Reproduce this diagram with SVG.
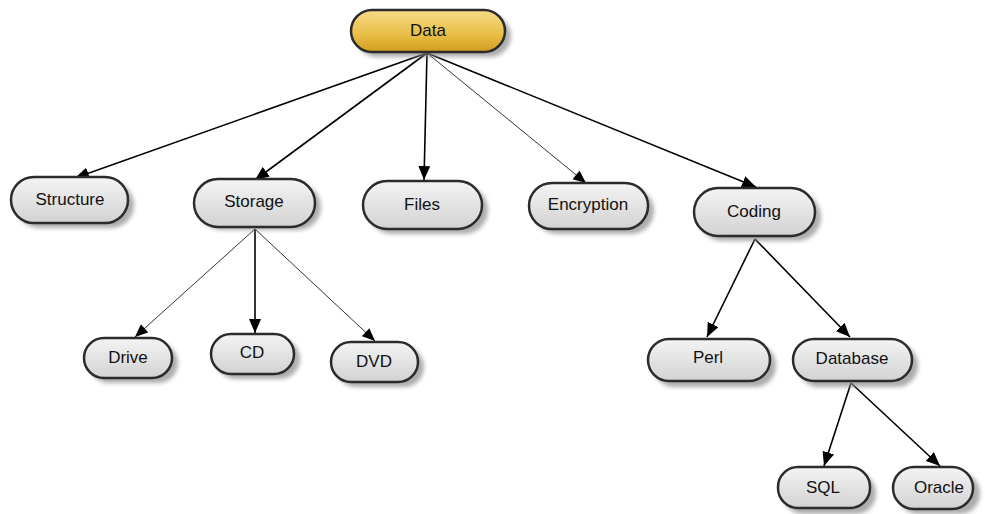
<svg xmlns="http://www.w3.org/2000/svg" width="985" height="514" viewBox="0 0 985 514">
<defs>
<linearGradient id="gGray" x1="0" y1="0" x2="0" y2="1">
<stop offset="0" stop-color="#f4f4f4"/><stop offset="1" stop-color="#d2d2d2"/>
</linearGradient>
<linearGradient id="gGold" x1="0" y1="0" x2="0" y2="1">
<stop offset="0" stop-color="#f6dc88"/><stop offset="0.6" stop-color="#e8bd45"/><stop offset="1" stop-color="#d19d1c"/>
</linearGradient>
<filter id="blur" x="-20%" y="-30%" width="140%" height="160%"><feGaussianBlur stdDeviation="2"/></filter>
<marker id="arr" viewBox="0 0 14 12" refX="14" refY="6" markerWidth="14" markerHeight="12" markerUnits="userSpaceOnUse" orient="auto">
<path d="M0,0 L14,6 L0,12 z" fill="#000"/>
</marker>
<marker id="arrT" viewBox="0 0 14 12" refX="14" refY="6" markerWidth="14" markerHeight="11" markerUnits="userSpaceOnUse" orient="auto">
<path d="M0,0 L14,6 L0,12 z" fill="#000"/>
</marker>
</defs>
<style>
.sh{fill:#8a8a8a;opacity:0.7;filter:url(#blur)}
.nd{fill:url(#gGray);stroke:#2b2b2b;stroke-width:2.5}
.gold{fill:url(#gGold)}
.t{font-family:"Liberation Sans",Arial,sans-serif;font-size:17px;fill:#111;text-anchor:middle;dominant-baseline:central}
.e{stroke:#000;fill:none;stroke-width:1.6;marker-end:url(#arr)}
.e.thin{stroke-width:0.8;marker-end:url(#arrT)}
</style>
<rect width="985" height="514" fill="#fff"/>
<g id="connectors">
<line class="e" x1="427" y1="53" x2="75" y2="178"/>
<line class="e" x1="427" y1="53" x2="255" y2="180"/>
<line class="e" x1="427" y1="53" x2="424" y2="180"/>
<line class="e thin" x1="427" y1="53" x2="586" y2="183"/>
<line class="e" x1="427" y1="53" x2="756" y2="187"/>
<line class="e thin" x1="255" y1="229" x2="135" y2="337"/>
<line class="e" x1="255" y1="229" x2="255" y2="333"/>
<line class="e thin" x1="255" y1="229" x2="375" y2="341"/>
<line class="e" x1="755" y1="239" x2="707" y2="337"/>
<line class="e" x1="755" y1="239" x2="850" y2="337"/>
<line class="e" x1="851" y1="383" x2="824" y2="466"/>
<line class="e" x1="851" y1="383" x2="940" y2="466"/>
</g>
<g id="n-data"><rect class="sh" x="356" y="15" width="155" height="42" rx="21"/><rect class="nd gold" x="351" y="10" width="154" height="42" rx="21"/><text class="t" x="428" y="30">Data</text></g>
<g id="n-structure"><rect class="sh" x="16" y="182" width="118" height="46" rx="23"/><rect class="nd" x="11" y="177" width="117" height="46" rx="23"/><text class="t" x="70" y="199">Structure</text></g>
<g id="n-storage"><rect class="sh" x="199" y="184" width="122" height="46" rx="23"/><rect class="nd" x="194" y="179" width="121" height="48" rx="24"/><text class="t" x="254" y="201">Storage</text></g>
<g id="n-files"><rect class="sh" x="368" y="186" width="120" height="48" rx="24"/><rect class="nd" x="363" y="181" width="119" height="48" rx="24"/><text class="t" x="422" y="204">Files</text></g>
<g id="n-encryption"><rect class="sh" x="534" y="188" width="120" height="46" rx="23"/><rect class="nd" x="529" y="183" width="119" height="46" rx="23"/><text class="t" x="588" y="204">Encryption</text></g>
<g id="n-coding"><rect class="sh" x="699" y="193" width="122" height="48" rx="24"/><rect class="nd" x="694" y="188" width="121" height="48" rx="24"/><text class="t" x="754" y="211">Coding</text></g>
<g id="n-drive"><rect class="sh" x="89" y="343" width="89" height="40" rx="20"/><rect class="nd" x="84" y="338" width="88" height="40" rx="20"/><text class="t" x="128" y="357">Drive</text></g>
<g id="n-cd"><rect class="sh" x="216" y="339" width="84" height="40" rx="20"/><rect class="nd" x="211" y="334" width="83" height="40" rx="20"/><text class="t" x="252" y="352">CD</text></g>
<g id="n-dvd"><rect class="sh" x="336" y="347" width="88" height="40" rx="20"/><rect class="nd" x="331" y="342" width="87" height="40" rx="20"/><text class="t" x="374" y="361">DVD</text></g>
<g id="n-perl"><rect class="sh" x="653" y="344" width="123" height="43" rx="21"/><rect class="nd" x="648" y="339" width="122" height="42" rx="21"/><text class="t" x="708" y="357">Perl</text></g>
<g id="n-database"><rect class="sh" x="798" y="344" width="120" height="43" rx="21"/><rect class="nd" x="793" y="339" width="119" height="42" rx="21"/><text class="t" x="852" y="358">Database</text></g>
<g id="n-sql"><rect class="sh" x="783" y="473" width="93" height="41" rx="20"/><rect class="nd" x="778" y="467" width="92" height="41" rx="20"/><text class="t" x="823" y="487">SQL</text></g>
<g id="n-oracle"><rect class="sh" x="898" y="473" width="82" height="41" rx="20"/><rect class="nd" x="893" y="467" width="80" height="42" rx="21"/><text class="t" x="939" y="487">Oracle</text></g>
</svg>
